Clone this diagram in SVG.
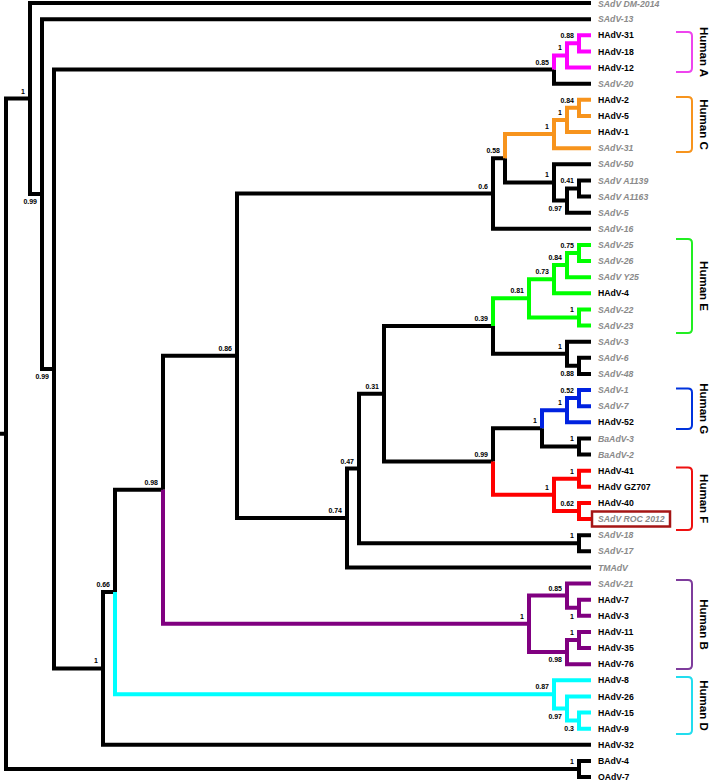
<svg xmlns="http://www.w3.org/2000/svg" width="709" height="782" viewBox="0 0 709 782">
<style>
.b{fill:none;stroke-width:4;stroke-linejoin:miter;stroke-linecap:butt}
.k{stroke:#000}
.pk{stroke:#FF00FF}
.or{stroke:#F7941D}
.gr{stroke:#00FF00}
.bl{stroke:#0022E0}
.rd{stroke:#FF0000}
.pu{stroke:#800080}
.cy{stroke:#00FFFF}
.br{fill:none;stroke-width:2;stroke-linejoin:round}
text{font-family:"Liberation Sans",Arial,sans-serif;font-weight:bold}
.h{font-size:8.7px;fill:#000}
.s{font-size:8.7px;fill:#8A8A8A;font-style:italic}
.n{font-size:7px;fill:#000;text-anchor:end}
.c{font-size:11.5px;fill:#000;text-anchor:middle}
</style>
<rect width="709" height="782" fill="#fff"/>
<g id="connectors">
<path class="b k" d="M0 433.73H6 M6 433.73V98.52H30 M6 433.73V768.94H579 M30 98.52V3H591 M30 98.52V194.04H42 M42 194.04V19.13H591 M42 194.04V368.96H54 M54 368.96V69.52H554 M54 368.96V668.4H103 M554 69.52V83.63H591 M103 668.4V592.06H115 M103 668.4V744.75H591 M115 592.06V489.76H163 M163 489.76V355.7H237 M237 355.7V193.48H493 M237 355.7V517.93H347 M493 193.48V158.2H505 M493 193.48V228.75H591 M505 158.2V182.39H554 M554 182.39V164.25H591 M554 182.39V200.53H567 M567 200.53V188.44H579 M567 200.53V212.63H591 M579 188.44V180.38H591 M579 188.44V196.5H591 M347 517.93V468.48H359 M347 517.93V567.38H591 M359 468.48V393.78H384 M359 468.48V543.19H579 M579 543.19V535.13H591 M579 543.19V551.25H591 M384 393.78V326H493 M384 393.78V461.56H493 M493 326V353.72H567 M567 353.72V341.63H591 M567 353.72V365.81H579 M579 365.81V357.75H591 M579 365.81V373.88H591 M493 461.56V428.3H542 M542 428.3V446.44H579 M579 446.44V438.38H591 M579 446.44V454.5H591 M579 768.94V760.88H591 M579 768.94V777H591"/>
<path class="b pk" d="M554 69.52V55.41H567 M567 55.41V43.31H579 M567 55.41V67.5H591 M579 43.31V35.25H591 M579 43.31V51.38H591"/>
<path class="b or" d="M505 158.2V134.02H554 M554 134.02V119.91H567 M554 134.02V148.13H591 M567 119.91V107.81H579 M567 119.91V132H591 M579 107.81V99.75H591 M579 107.81V115.88H591"/>
<path class="b gr" d="M493 326V298.29H529 M529 298.29V279.14H554 M529 298.29V317.44H579 M554 279.14V265.03H567 M554 279.14V293.25H591 M567 265.03V252.94H579 M567 265.03V277.13H591 M579 252.94V244.88H591 M579 252.94V261H591 M579 317.44V309.38H591 M579 317.44V325.5H591"/>
<path class="b bl" d="M542 428.3V410.16H567 M567 410.16V398.06H579 M567 410.16V422.25H591 M579 398.06V390H591 M579 398.06V406.13H591"/>
<path class="b rd" d="M493 461.56V494.81H554 M554 494.81V478.69H579 M554 494.81V510.94H579 M579 478.69V470.63H591 M579 478.69V486.75H591 M579 510.94V502.88H591 M579 510.94V519H591"/>
<path class="b pu" d="M163 489.76V623.81H529 M529 623.81V595.59H567 M529 623.81V652.03H567 M567 595.59V583.5H591 M567 595.59V607.69H579 M579 607.69V599.63H591 M579 607.69V615.75H591 M567 652.03V639.94H579 M567 652.03V664.13H591 M579 639.94V631.88H591 M579 639.94V648H591"/>
<path class="b cy" d="M115 592.06V694.36H554 M554 694.36V680.25H591 M554 694.36V708.47H567 M567 708.47V696.38H591 M567 708.47V720.56H579 M579 720.56V712.5H591 M579 720.56V728.63H591"/>
</g>
<g id="support-values">
<text class="n" x="25" y="93.5">1</text>
<text class="n" x="37" y="204">0.99</text>
<text class="n" x="49" y="379">0.99</text>
<text class="n" x="549" y="64.5">0.85</text>
<text class="n" x="562" y="50.4">1</text>
<text class="n" x="574" y="38.3">0.88</text>
<text class="n" x="574" y="102.8">0.84</text>
<text class="n" x="562" y="114.9">1</text>
<text class="n" x="549" y="129">1</text>
<text class="n" x="500" y="153.2">0.58</text>
<text class="n" x="488" y="188.5">0.6</text>
<text class="n" x="549" y="177.4">1</text>
<text class="n" x="574" y="183.4">0.41</text>
<text class="n" x="562" y="210.5">0.97</text>
<text class="n" x="574" y="247.9">0.75</text>
<text class="n" x="562" y="260">0.84</text>
<text class="n" x="549" y="274.1">0.73</text>
<text class="n" x="524" y="293.3">0.81</text>
<text class="n" x="574" y="312.4">1</text>
<text class="n" x="488" y="321">0.39</text>
<text class="n" x="562" y="348.7">1</text>
<text class="n" x="574" y="375.8">0.88</text>
<text class="n" x="379" y="388.8">0.31</text>
<text class="n" x="574" y="393">0.52</text>
<text class="n" x="562" y="405.2">1</text>
<text class="n" x="537" y="423.3">1</text>
<text class="n" x="574" y="441.4">1</text>
<text class="n" x="488" y="456.6">0.99</text>
<text class="n" x="574" y="473.7">1</text>
<text class="n" x="549" y="489.8">1</text>
<text class="n" x="574" y="505.9">0.62</text>
<text class="n" x="574" y="538.2">1</text>
<text class="n" x="354" y="463.5">0.47</text>
<text class="n" x="342" y="512.9">0.74</text>
<text class="n" x="232" y="350.7">0.86</text>
<text class="n" x="158" y="484.8">0.98</text>
<text class="n" x="110" y="587">0.66</text>
<text class="n" x="98" y="663.4">1</text>
<text class="n" x="524" y="618.8">1</text>
<text class="n" x="562" y="590.6">0.85</text>
<text class="n" x="574" y="618.5">1</text>
<text class="n" x="574" y="634.9">1</text>
<text class="n" x="562" y="662">0.98</text>
<text class="n" x="549" y="689.4">0.87</text>
<text class="n" x="562" y="718.5">0.97</text>
<text class="n" x="574" y="730.6">0.3</text>
<text class="n" x="574" y="763.9">1</text>
</g>
<g id="leaves">
<g id="leaf-SAdV-DM-2014"><text class="s" x="598" y="7.3">SAdV DM-2014</text></g>
<g id="leaf-SAdV-13"><text class="s" x="598" y="22.2">SAdV-13</text></g>
<g id="leaf-HAdV-31"><text class="h" x="598" y="38.4">HAdV-31</text></g>
<g id="leaf-HAdV-18"><text class="h" x="598" y="54.5">HAdV-18</text></g>
<g id="leaf-HAdV-12"><text class="h" x="598" y="70.6">HAdV-12</text></g>
<g id="leaf-SAdV-20"><text class="s" x="598" y="86.7">SAdV-20</text></g>
<g id="leaf-HAdV-2"><text class="h" x="598" y="102.9">HAdV-2</text></g>
<g id="leaf-HAdV-5"><text class="h" x="598" y="119">HAdV-5</text></g>
<g id="leaf-HAdV-1"><text class="h" x="598" y="135.1">HAdV-1</text></g>
<g id="leaf-SAdV-31"><text class="s" x="598" y="151.2">SAdV-31</text></g>
<g id="leaf-SAdV-50"><text class="s" x="598" y="167.4">SAdV-50</text></g>
<g id="leaf-SAdV-A1139"><text class="s" x="598" y="183.5">SAdV A1139</text></g>
<g id="leaf-SAdV-A1163"><text class="s" x="598" y="199.6">SAdV A1163</text></g>
<g id="leaf-SAdV-5"><text class="s" x="598" y="215.7">SAdV-5</text></g>
<g id="leaf-SAdV-16"><text class="s" x="598" y="231.9">SAdV-16</text></g>
<g id="leaf-SAdV-25"><text class="s" x="598" y="248">SAdV-25</text></g>
<g id="leaf-SAdV-26"><text class="s" x="598" y="264.1">SAdV-26</text></g>
<g id="leaf-SAdV-Y25"><text class="s" x="598" y="280.2">SAdV Y25</text></g>
<g id="leaf-HAdV-4"><text class="h" x="598" y="296.4">HAdV-4</text></g>
<g id="leaf-SAdV-22"><text class="s" x="598" y="312.5">SAdV-22</text></g>
<g id="leaf-SAdV-23"><text class="s" x="598" y="328.6">SAdV-23</text></g>
<g id="leaf-SAdV-3"><text class="s" x="598" y="344.7">SAdV-3</text></g>
<g id="leaf-SAdV-6"><text class="s" x="598" y="360.9">SAdV-6</text></g>
<g id="leaf-SAdV-48"><text class="s" x="598" y="377">SAdV-48</text></g>
<g id="leaf-SAdV-1"><text class="s" x="598" y="393.1">SAdV-1</text></g>
<g id="leaf-SAdV-7"><text class="s" x="598" y="409.2">SAdV-7</text></g>
<g id="leaf-HAdV-52"><text class="h" x="598" y="425.4">HAdV-52</text></g>
<g id="leaf-BaAdV-3"><text class="s" x="598" y="441.5">BaAdV-3</text></g>
<g id="leaf-BaAdV-2"><text class="s" x="598" y="457.6">BaAdV-2</text></g>
<g id="leaf-HAdV-41"><text class="h" x="598" y="473.7">HAdV-41</text></g>
<g id="leaf-HAdV-GZ707"><text class="h" x="598" y="489.9">HAdV GZ707</text></g>
<g id="leaf-HAdV-40"><text class="h" x="598" y="506">HAdV-40</text></g>
<g id="leaf-SAdV-ROC-2012"><rect x="592" y="511.5" width="78" height="15" fill="none" stroke="#A51515" stroke-width="2.5"/><text class="s" x="598" y="522.1">SAdV ROC 2012</text></g>
<g id="leaf-SAdV-18"><text class="s" x="598" y="538.2">SAdV-18</text></g>
<g id="leaf-SAdV-17"><text class="s" x="598" y="554.4">SAdV-17</text></g>
<g id="leaf-TMAdV"><text class="s" x="598" y="570.5">TMAdV</text></g>
<g id="leaf-SAdV-21"><text class="s" x="598" y="586.6">SAdV-21</text></g>
<g id="leaf-HAdV-7"><text class="h" x="598" y="602.7">HAdV-7</text></g>
<g id="leaf-HAdV-3"><text class="h" x="598" y="618.9">HAdV-3</text></g>
<g id="leaf-HAdV-11"><text class="h" x="598" y="635">HAdV-11</text></g>
<g id="leaf-HAdV-35"><text class="h" x="598" y="651.1">HAdV-35</text></g>
<g id="leaf-HAdV-76"><text class="h" x="598" y="667.2">HAdV-76</text></g>
<g id="leaf-HAdV-8"><text class="h" x="598" y="683.4">HAdV-8</text></g>
<g id="leaf-HAdV-26"><text class="h" x="598" y="699.5">HAdV-26</text></g>
<g id="leaf-HAdV-15"><text class="h" x="598" y="715.6">HAdV-15</text></g>
<g id="leaf-HAdV-9"><text class="h" x="598" y="731.7">HAdV-9</text></g>
<g id="leaf-HAdV-32"><text class="h" x="598" y="747.9">HAdV-32</text></g>
<g id="leaf-BAdV-4"><text class="h" x="598" y="764">BAdV-4</text></g>
<g id="leaf-OAdV-7"><text class="h" x="598" y="780.1">OAdV-7</text></g>
</g>
<g id="clades">
<g id="clade-A"><path class="br" stroke="#EE44EE" d="M676 32H688Q692 32 692 36V68Q692 72 688 72H676"/><text class="c" transform="translate(700 52) rotate(90)">Human A</text></g>
<g id="clade-C"><path class="br" stroke="#F7941D" d="M676 97H688Q692 97 692 101V148Q692 152 688 152H676"/><text class="c" transform="translate(700 124.5) rotate(90)">Human C</text></g>
<g id="clade-E"><path class="br" stroke="#22EE22" d="M676 239H688Q692 239 692 243V329Q692 333 688 333H676"/><text class="c" transform="translate(700 286) rotate(90)">Human E</text></g>
<g id="clade-G"><path class="br" stroke="#0033DD" d="M676 388.5H688Q692 388.5 692 392.5V425Q692 429 688 429H676"/><text class="c" transform="translate(700 408.7) rotate(90)">Human G</text></g>
<g id="clade-F"><path class="br" stroke="#EE1111" d="M676 467.5H688Q692 467.5 692 471.5V526Q692 530 688 530H676"/><text class="c" transform="translate(700 498.7) rotate(90)">Human F</text></g>
<g id="clade-B"><path class="br" stroke="#7E3C9C" d="M676 580H688Q692 580 692 584V665Q692 669 688 669H676"/><text class="c" transform="translate(700 624.5) rotate(90)">Human B</text></g>
<g id="clade-D"><path class="br" stroke="#22DDEE" d="M676 677H688Q692 677 692 681V730Q692 734 688 734H676"/><text class="c" transform="translate(700 705.5) rotate(90)">Human D</text></g>
</g>
</svg>
